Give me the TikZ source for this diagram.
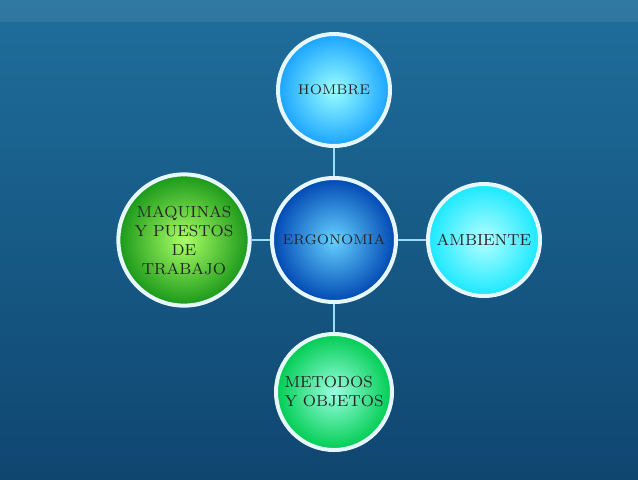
\documentclass[tikz,border=0pt]{standalone}
\usetikzlibrary{positioning}
\definecolor{bgtop}{HTML}{1F6E9C}
\definecolor{bgbot}{HTML}{0F4670}
\tikzset{bubble/.style={circle, draw=white!90!cyan, line width=2pt, minimum size=#1, font=\scriptsize, text=black!85, align=left, inner sep=2pt}}
\tikzset{link/.style={draw=cyan!40!white, line width=0.8pt}}
\begin{document}
\begin{tikzpicture}[x=0.5pt, y=-0.5pt]
\useasboundingbox (0,0) rectangle (638,479);
\shade[top color=bgtop, bottom color=bgbot] (0,0) rectangle (638,479);
\fill[white, opacity=0.08] (0,0) rectangle (638,22);

\node (ergo) [bubble=62pt, inner color=blue!30!cyan!60, outer color=blue!60!cyan!70!black] at (334,240) {ERGONOMIA};
\node (hombre) [bubble=56pt, inner color=cyan!40, outer color=cyan!60!blue!90] at (334,90) {HOMBRE};
\node (ambiente) [bubble=56pt, inner color=cyan!30, outer color=cyan!90!blue!90, font=\footnotesize] at (484,240) {AMBIENTE};
\node (maquinas) [bubble=58pt, inner color=green!55!yellow!60, outer color=green!55!black!90, font=\footnotesize, align=center] at (184,240) {MAQUINAS\\Y PUESTOS\\DE\\TRABAJO};
\node (metodos) [bubble=58pt, inner color=green!30!cyan!40, outer color=green!60!cyan!80!black, font=\footnotesize] at (334,392) {METODOS\\Y OBJETOS};

\path[link] (ergo) -- (hombre);
\path[link] (ergo) -- (ambiente);
\path[link] (ergo) -- (maquinas);
\path[link] (ergo) -- (metodos);
\end{tikzpicture}
\end{document}
